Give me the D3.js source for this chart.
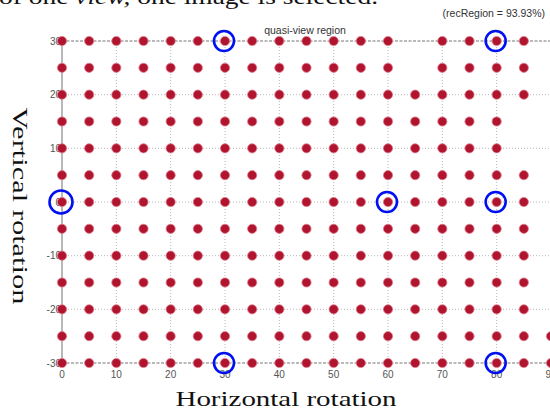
<!DOCTYPE html>
<html>
<head>
<meta charset="utf-8">
<script src="https://cdn.jsdelivr.net/npm/d3@7"></script>
<style>
  html, body { margin: 0; padding: 0; background: #fff; }
  svg { display: block; }
</style>
</head>
<body>
<svg id="chart" width="550" height="411"></svg>
<script>
// ---- data ----
const hAngles = [0, 5, 10, 15, 20, 25, 30, 35, 40, 45, 50, 55, 60, 65, 70, 75, 80, 85, 90];
const vAngles = [30, 25, 20, 15, 10, 5, 0, -5, -10, -15, -20, -25, -30];
// grid points that were not recognised (absent from the plot)
const missingPoints = [
  [65, 30], [65, 25], [85, 15], [85, 10],
  [90, 30], [90, 25], [90, 20], [90, 15], [90, 10], [90, 5], [90, 0],
  [90, -5], [90, -10], [90, -15], [90, -20]
];
// selected (circled) views
const selectedPoints = [[0, 0], [30, 30], [30, -30], [60, 0], [80, 30], [80, 0], [80, -30]];
const xTicks = [0, 10, 20, 30, 40, 50, 60, 70, 80, 90];
const yTicks = [-30, -20, -10, 0, 10, 20, 30];
const gridX = [10, 20, 30, 40, 50, 60, 70, 80, 90];
const gridY = [-20, -10, 0, 10, 20];
const captionText = ["of one ", "view,", " one image is selected."];
const titleText = "quasi-view region";
const rateText = "(recRegion = 93.93%)";
const xLabel = "Horizontal rotation";
const yLabel = "Vertical rotation";

// ---- drawing ----
const svg = d3.select("#chart");
const x = d3.scaleLinear().domain([0, 90]).range([62, 551]);
const y = d3.scaleLinear().domain([-30, 30]).range([363, 41]);

const missingSet = new Set(missingPoints.map(p => p[0] + "," + p[1]));
const points = [];
vAngles.forEach(v => hAngles.forEach(h => {
  if (!missingSet.has(h + "," + v)) points.push([h, v]);
}));

// caption fragment (cut off at the top, as in the source figure)
const cap = svg.append("text")
  .attr("x", -1).attr("y", 3.5)
  .attr("font-family", "Liberation Serif, Times New Roman, serif")
  .attr("font-size", 21).attr("fill", "#111")
  .attr("textLength", 379).attr("lengthAdjust", "spacingAndGlyphs");
cap.append("tspan").text(captionText[0]);
cap.append("tspan").attr("font-style", "italic").text(captionText[1]);
cap.append("tspan").text(captionText[2]);

// grid
const g = svg.append("g");
g.selectAll(".gx").data(gridX).join("line")
  .attr("x1", d => x(d)).attr("x2", d => x(d))
  .attr("y1", y(30)).attr("y2", y(-30))
  .attr("stroke", "#b8b8b8").attr("stroke-width", 1)
  .attr("stroke-dasharray", "1,2");
g.selectAll(".gy").data(gridY).join("line")
  .attr("x1", x(0)).attr("x2", x(90))
  .attr("y1", d => y(d)).attr("y2", d => y(d))
  .attr("stroke", "#b8b8b8").attr("stroke-width", 1)
  .attr("stroke-dasharray", "1,2");

// axes box
svg.append("line").attr("x1", x(0)).attr("x2", x(90)).attr("y1", y(30)).attr("y2", y(30))
  .attr("stroke", "#777").attr("stroke-width", 1.2).attr("stroke-dasharray", "3,1.5");
svg.append("line").attr("x1", x(0)).attr("x2", x(90)).attr("y1", y(-30)).attr("y2", y(-30))
  .attr("stroke", "#777").attr("stroke-width", 1.2).attr("stroke-dasharray", "3,1.5");
svg.append("line").attr("x1", x(0)).attr("x2", x(0)).attr("y1", y(30)).attr("y2", y(-30))
  .attr("stroke", "#888").attr("stroke-width", 1.2);

// tick labels
svg.selectAll(".xt").data(xTicks).join("text")
  .attr("x", d => x(d)).attr("y", 378)
  .attr("text-anchor", "middle")
  .attr("font-family", "Liberation Sans, Arial, sans-serif")
  .attr("font-size", 10).attr("fill", "#555")
  .text(d => d);
svg.selectAll(".yt").data(yTicks).join("text")
  .attr("x", 61).attr("y", d => y(d) + 3.5)
  .attr("text-anchor", "end")
  .attr("font-family", "Liberation Sans, Arial, sans-serif")
  .attr("font-size", 10).attr("fill", "#555")
  .text(d => d);

// points
svg.selectAll(".pt").data(points).join("circle")
  .attr("cx", d => x(d[0])).attr("cy", d => y(d[1]))
  .attr("r", 4.6)
  .attr("fill", "#b0142f")
  .attr("stroke", "#de7d8c").attr("stroke-width", 0.8);

// selected views
svg.selectAll(".sel").data(selectedPoints).join("circle")
  .attr("cx", d => x(d[0]) - 1).attr("cy", d => y(d[1]))
  .attr("r", d => d[0] === 0 ? 11.5 : 10)
  .attr("fill", "none")
  .attr("stroke", "#0010f0").attr("stroke-width", 2.6);

// titles
svg.append("text").attr("x", 305).attr("y", 34)
  .attr("text-anchor", "middle")
  .attr("font-family", "Liberation Sans, Arial, sans-serif")
  .attr("font-size", 10.5).attr("fill", "#333")
  .text(titleText);
svg.append("text").attr("x", 545).attr("y", 17)
  .attr("text-anchor", "end")
  .attr("font-family", "Liberation Sans, Arial, sans-serif")
  .attr("font-size", 10.5).attr("fill", "#333")
  .text(rateText);

// axis labels
svg.append("text").attr("x", 286).attr("y", 406)
  .attr("text-anchor", "middle")
  .attr("font-family", "Liberation Serif, Times New Roman, serif")
  .attr("font-size", 21).attr("fill", "#111")
  .attr("textLength", 221).attr("lengthAdjust", "spacingAndGlyphs")
  .text(xLabel);
svg.append("text")
  .attr("transform", "translate(13,206) rotate(90)")
  .attr("text-anchor", "middle")
  .attr("font-family", "Liberation Serif, Times New Roman, serif")
  .attr("font-size", 21).attr("fill", "#111")
  .attr("textLength", 197).attr("lengthAdjust", "spacingAndGlyphs")
  .text(yLabel);
</script>
</body>
</html>
